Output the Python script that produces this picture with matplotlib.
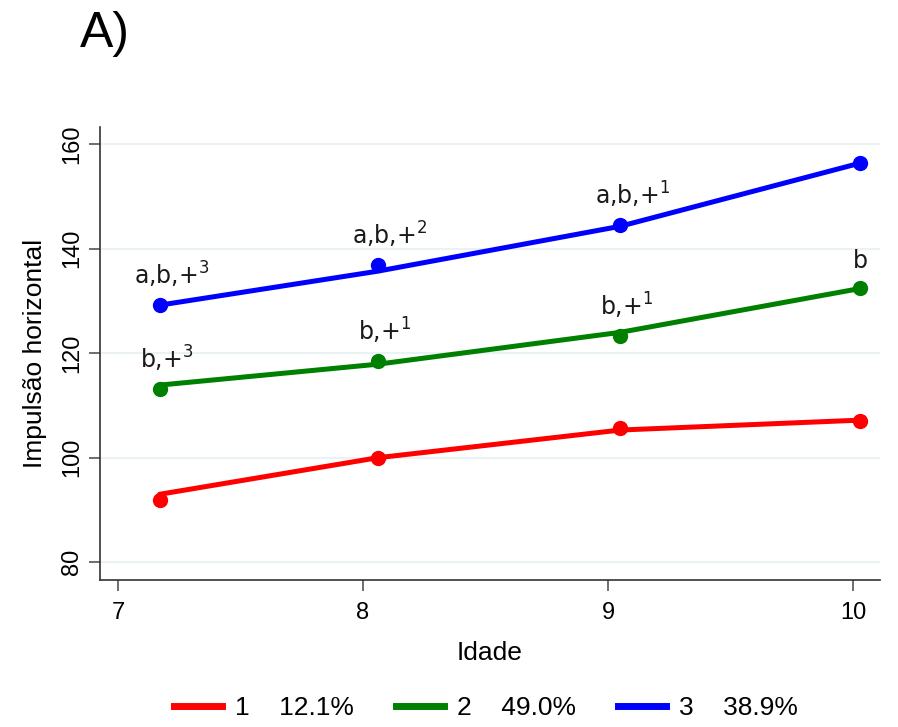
import matplotlib
matplotlib.use("Agg")
import matplotlib.pyplot as plt
from matplotlib.lines import Line2D

plt.rcParams['font.family'] = ['Liberation Sans', 'DejaVu Sans']

ages = [7.17, 8.06, 9.05, 10.03]
# observed means (dots)
obs1 = [91.9, 99.9, 105.6, 107.0]
obs2 = [113.1, 118.5, 123.3, 132.4]
obs3 = [129.2, 136.8, 144.5, 156.4]
# fitted trajectories (lines)
fit1 = [93.0, 100.0, 105.3, 107.2]
fit2 = [113.9, 117.9, 124.0, 132.4]
fit3 = [129.2, 135.7, 144.3, 156.4]

labels3 = [r"a,b,+$^{3}$", r"a,b,+$^{2}$", r"a,b,+$^{1}$", ""]
labels2 = [r"b,+$^{3}$", r"b,+$^{1}$", r"b,+$^{1}$", "b"]

legend_labels = ["1    12.1%", "2    49.0%", "3    38.9%"]
colors = ["#ff0000", "#008000", "#0000ff"]

xticks = [7, 8, 9, 10]
yticks = [80, 100, 120, 140, 160]

fig = plt.figure(figsize=(8.98, 7.27), dpi=100)
ax = fig.add_axes([100/898, 1-580/727, 780/898, 453/727])

for fit, obs, c in zip([fit1, fit2, fit3], [obs1, obs2, obs3], colors):
    ax.plot(ages, fit, color=c, lw=3.6, solid_capstyle='round', zorder=3)
    ax.plot(ages, obs, 'o', color=c, ms=10, zorder=4)

for obs, labs, dx in ((obs3, labels3, 9), (obs2, labels2, 5)):
    for x, y, t in zip(ages, obs, labs):
        if t:
            ax.annotate(t, (x, y), xytext=(dx if '$' in t else 0, 11),
                        textcoords='offset points',
                        ha='center', va='bottom', fontsize=17,
                        family=['DejaVu Sans'], color='#1a1a1a')

ax.set_xlim(6.927, 10.11)
ax.set_ylim(76.6, 163.3)
ax.set_xticks(xticks)
ax.set_yticks(yticks)
ax.tick_params(axis='both', labelsize=17, length=8, width=1.2, color='#555555')
ax.tick_params(axis='x', pad=8)
ax.tick_params(axis='y', pad=4)
for lab in ax.get_yticklabels():
    lab.set_rotation(90)
    lab.set_va('center')
ax.grid(axis='y', color='#eaf2f3', lw=1.5, zorder=0)
ax.spines['top'].set_visible(False)
ax.spines['right'].set_visible(False)
ax.spines['left'].set_color('#333333')
ax.spines['bottom'].set_color('#333333')
ax.spines['left'].set_linewidth(1.2)
ax.spines['bottom'].set_linewidth(1.2)
ax.set_axisbelow(True)

ax.set_xlabel("Idade", fontsize=19, labelpad=12)
ax.set_ylabel("Impulsão horizontal", fontsize=19, labelpad=10)

handles = [Line2D([0], [0], color=c, lw=5) for c in colors]
fig.legend(handles, legend_labels, loc='center', bbox_to_anchor=(486/898, 1-708/727),
           ncol=3, frameon=False, fontsize=19, handlelength=1.8,
           handletextpad=0.5, columnspacing=1.6)

fig.text(80/898, 1-47/727, "A)", fontsize=36, ha='left', va='baseline')

fig.savefig("out.png", dpi=100)
